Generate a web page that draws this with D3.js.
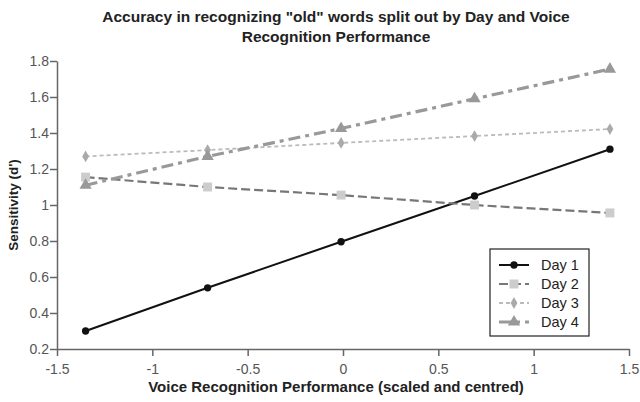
<!DOCTYPE html>
<html>
<head>
<meta charset="utf-8">
<script src="https://cdn.jsdelivr.net/npm/d3@7"></script>
<style>
  body { margin: 0; background: #fff; }
  svg { font-family: "Liberation Sans", Arial, sans-serif; }
</style>
</head>
<body>
<div id="chart"></div>
<script>
// Data
const xValues = [-1.35, -0.71, -0.01, 0.69, 1.40];
const day1 = [0.30, 0.54, 0.796, 1.05, 1.31];
const day2 = [1.155, 1.10, 1.055, 1.00, 0.956];
const day3 = [1.27, 1.305, 1.345, 1.383, 1.422];
const day4 = [1.11, 1.27, 1.425, 1.59, 1.755];
const seriesNames = ["Day 1", "Day 2", "Day 3", "Day 4"];
const xTicks = [-1.5, -1, -0.5, 0, 0.5, 1, 1.5];
const yTicks = [0.2, 0.4, 0.6, 0.8, 1, 1.2, 1.4, 1.6, 1.8];

const W = 640, H = 402;
const margin = { top: 61, right: 11, bottom: 53, left: 57 };
const width = W - margin.left - margin.right;
const height = H - margin.top - margin.bottom;

const svg = d3.select("#chart").append("svg")
  .attr("width", W).attr("height", H);

const g = svg.append("g")
  .attr("transform", `translate(${margin.left},${margin.top})`);

const x = d3.scaleLinear().domain([-1.5, 1.5]).range([0, width]);
const y = d3.scaleLinear().domain([0.2, 1.8]).range([height, 0]);

// plain hyphen for negatives, like the original
const fmt = d => String(d);

// axes
const xAxis = g.append("g")
  .attr("transform", `translate(0,${height})`)
  .call(d3.axisBottom(x).tickValues(xTicks).tickSize(7).tickSizeOuter(0).tickFormat(fmt));
const yAxis = g.append("g")
  .call(d3.axisLeft(y).tickValues(yTicks).tickSize(7).tickSizeOuter(0).tickFormat(fmt));

[xAxis, yAxis].forEach(a => {
  a.select(".domain").attr("stroke", "#666").attr("stroke-width", 1.5);
  a.selectAll(".tick line").attr("stroke", "#666").attr("stroke-width", 1.5);
  a.selectAll(".tick text").attr("fill", "#555").style("font-size", "14px");
});
xAxis.selectAll(".tick text").attr("dy", "1.05em");
yAxis.selectAll(".tick text").attr("x", -8);

// series styles
const series = [
  { name: seriesNames[0], values: day1, line: "#111", dash: null, width: 2, marker: d3.symbolCircle, mfill: "#111", msize: 42 },
  { name: seriesNames[1], values: day2, line: "#777", dash: "9,4", width: 2.2, marker: d3.symbolSquare, mfill: "#ccc", msize: 80 },
  { name: seriesNames[2], values: day3, line: "#bbb", dash: "4,3", width: 1.8, marker: d3.symbolDiamond, mfill: "#aaa", msize: 40 },
  { name: seriesNames[3], values: day4, line: "#999", dash: "12,5,4,5", width: 3.2, marker: d3.symbolTriangle, mfill: "#999", msize: 65 }
];

const line = d3.line().x(d => x(d[0])).y(d => y(d[1]));

series.forEach(s => {
  const pts = xValues.map((v, i) => [v, s.values[i]]);
  g.append("path")
    .datum(pts)
    .attr("fill", "none")
    .attr("stroke", s.line)
    .attr("stroke-width", s.width)
    .attr("stroke-dasharray", s.dash)
    .attr("d", line);
  g.selectAll(null).data(pts).enter().append("path")
    .attr("transform", d => `translate(${x(d[0])},${y(d[1])})`)
    .attr("d", d3.symbol().type(s.marker).size(s.msize))
    .attr("fill", s.mfill);
});

// legend
const legend = svg.append("g").attr("transform", "translate(490,249)");
legend.append("rect")
  .attr("width", 99).attr("height", 87)
  .attr("fill", "#fff").attr("stroke", "#222").attr("stroke-width", 1.2);
series.forEach((s, i) => {
  const ly = 16 + i * 19;
  legend.append("line")
    .attr("x1", 9).attr("x2", 39).attr("y1", ly).attr("y2", ly)
    .attr("stroke", s.line).attr("stroke-width", s.width)
    .attr("stroke-dasharray", s.dash);
  legend.append("path")
    .attr("transform", `translate(24,${ly})`)
    .attr("d", d3.symbol().type(s.marker).size(s.msize))
    .attr("fill", s.mfill);
  legend.append("text")
    .attr("x", 51).attr("y", ly).attr("dy", "0.35em")
    .attr("fill", "#222").style("font-size", "14.5px")
    .text(s.name);
});

// titles
const cx = 336;
svg.append("text")
  .attr("x", cx).attr("y", 22).attr("text-anchor", "middle")
  .style("font-size", "15.5px").style("font-weight", "bold").attr("fill", "#222")
  .text("Accuracy in recognizing \"old\" words split out by Day and Voice");
svg.append("text")
  .attr("x", cx).attr("y", 42).attr("text-anchor", "middle")
  .style("font-size", "15.5px").style("font-weight", "bold").attr("fill", "#222")
  .text("Recognition Performance");

svg.append("text")
  .attr("x", cx).attr("y", 392).attr("text-anchor", "middle")
  .style("font-size", "15px").style("font-weight", "bold").attr("fill", "#222")
  .text("Voice Recognition Performance (scaled and centred)");

svg.append("text")
  .attr("transform", `translate(18,${margin.top + height / 2}) rotate(-90)`)
  .attr("text-anchor", "middle")
  .style("font-size", "13.5px").style("font-weight", "bold").attr("fill", "#222")
  .text("Sensitivity (d')");
</script>
</body>
</html>
